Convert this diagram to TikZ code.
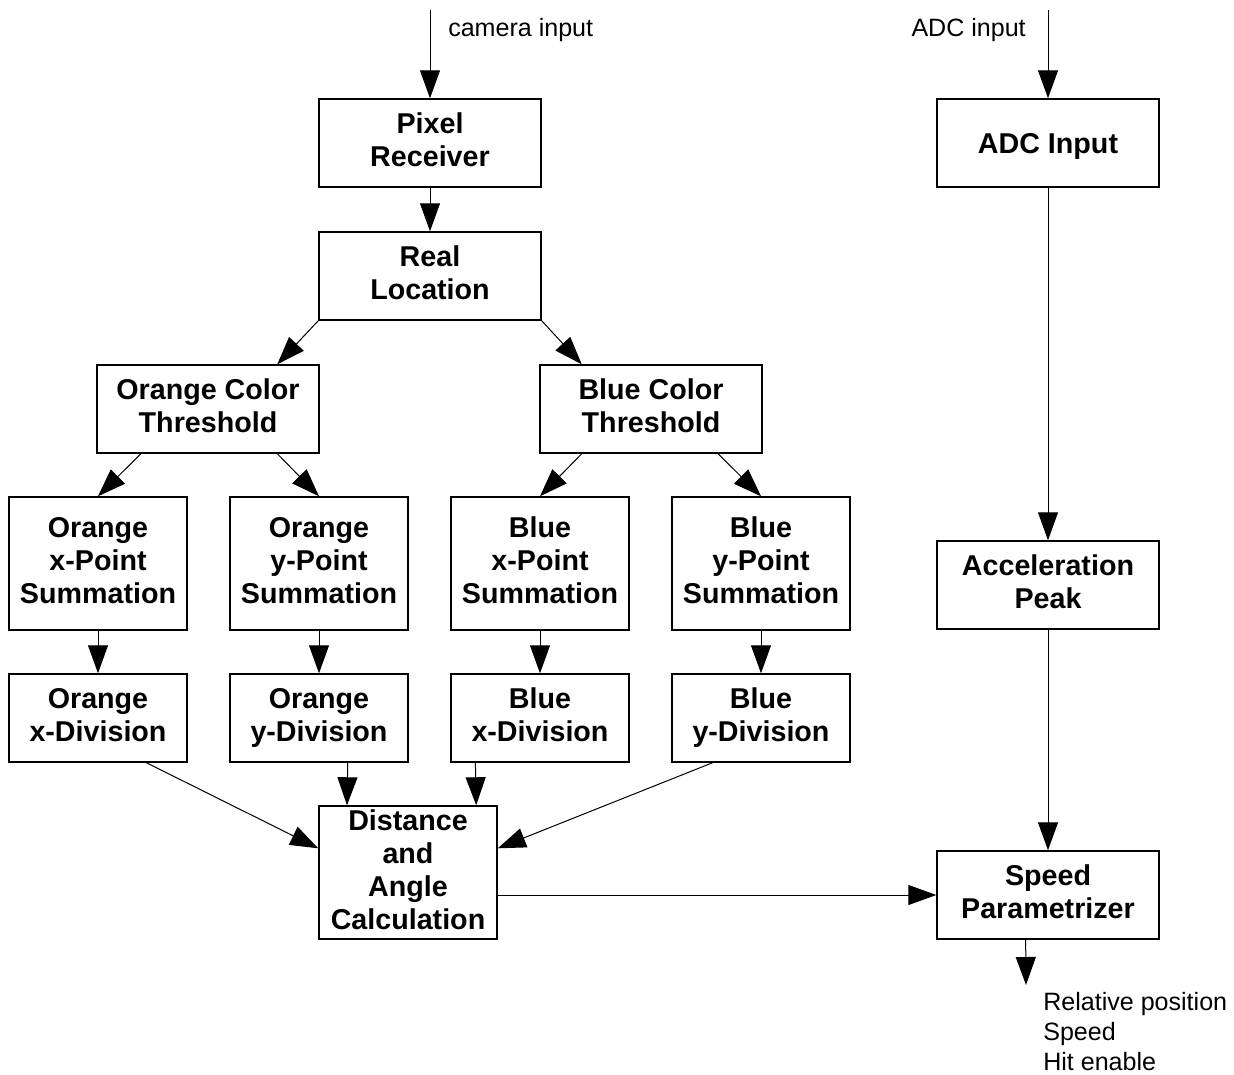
\documentclass[tikz,border=0pt]{standalone}
\usepackage{fontspec}
\setmainfont{Liberation Sans}
\usetikzlibrary{arrows.meta,calc}
\newcommand{\blkstrut}{\rule[-4.4pt]{0pt}{24.7pt}}
\tikzset{
  blk/.style={draw, line width=1.1pt, rectangle, inner sep=0pt, align=center,
    font=\bfseries\fontsize{21.5}{24.75}\selectfont,
    execute at begin node=\blkstrut, execute at end node=\blkstrut},
  wide/.style={minimum width=166.5pt, minimum height=66pt},
  narrow/.style={minimum width=133.5pt, minimum height=99.75pt},
  ndiv/.style={minimum width=133.5pt, minimum height=66pt},
  lbl/.style={font=\fontsize{18.8}{22.5}\selectfont, inner sep=0pt},
  conn/.style={line width=0.75pt, -{Triangle[length=21pt,width=15pt]}}
}
\begin{document}
\begin{tikzpicture}[x=0.75pt,y=-0.75pt]
\useasboundingbox (0,0) rectangle (1234,1074);
% nodes
\node[blk,wide] (pix) at (430,143) {Pixel\\Receiver};
\node[blk,wide] (real) at (430,276) {Real\\Location};
\node[blk,wide] (oc) at (208,409) {Orange Color\\Threshold};
\node[blk,wide] (bc) at (651,409) {Blue Color\\Threshold};
\node[blk,narrow] (ox) at (98,563.5) {Orange\\x-Point\\Summation};
\node[blk,narrow] (oy) at (319,563.5) {Orange\\y-Point\\Summation};
\node[blk,narrow] (bx) at (540,563.5) {Blue\\x-Point\\Summation};
\node[blk,narrow] (by) at (761,563.5) {Blue\\y-Point\\Summation};
\node[blk,ndiv] (oxd) at (98,718) {Orange\\x-Division};
\node[blk,ndiv] (oyd) at (319,718) {Orange\\y-Division};
\node[blk,ndiv] (bxd) at (540,718) {Blue\\x-Division};
\node[blk,ndiv] (byd) at (761,718) {Blue\\y-Division};
\node[blk,narrow] (dist) at (408,872.5) {Distance\\and\\Angle\\Calculation};
\node[blk,wide] (adc) at (1048,143) {ADC Input};
\node[blk,wide] (acc) at (1048,585) {Acceleration\\Peak};
\node[blk,wide] (spd) at (1048,895) {Speed\\Parametrizer};
% free ends
\coordinate (camin) at (430,10);
\coordinate (adcin) at (1048,10);
\coordinate (outp) at (1026,985);
% labels
\node[lbl, anchor=west] (camlbl) at (448,30) {camera input};
\node[lbl, anchor=east] (adclbl) at (1026,30) {ADC input};
\node[lbl, anchor=north west, align=left] (outlbl) at (1043,992) {Relative position\\Speed\\Hit enable};
% connectors
\draw[conn] (camin) -- (pix.north);
\draw[conn] (adcin) -- (adc.north);
\draw[conn] (pix.south) -- (real.north);
\draw[conn] (real.south west) -- ($(oc.north west)!0.81!(oc.north east)$);
\draw[conn] (real.south east) -- ($(bc.north west)!0.19!(bc.north east)$);
\draw[conn] ($(oc.south west)!0.2!(oc.south east)$) -- (ox.north);
\draw[conn] ($(oc.south west)!0.81!(oc.south east)$) -- (oy.north);
\draw[conn] ($(bc.south west)!0.19!(bc.south east)$) -- (bx.north);
\draw[conn] ($(bc.south west)!0.8!(bc.south east)$) -- (by.north);
\draw[conn] (ox.south) -- (oxd.north);
\draw[conn] (oy.south) -- (oyd.north);
\draw[conn] (bx.south) -- (bxd.north);
\draw[conn] (by.south) -- (byd.north);
\draw[conn] ($(oxd.south west)!0.77!(oxd.south east)$) -- ($(dist.north west)!0.32!(dist.south west)$);
\draw[conn] ($(oyd.south west)!0.66!(oyd.south east)$) -- ($(dist.north west)!0.16!(dist.north east)$);
\draw[conn] ($(bxd.south west)!0.14!(bxd.south east)$) -- ($(dist.north west)!0.88!(dist.north east)$);
\draw[conn] ($(byd.south west)!0.23!(byd.south east)$) -- ($(dist.north east)!0.32!(dist.south east)$);
\draw[conn] (spd.west -| dist.east) -- (spd.west);
\draw[conn] (adc.south) -- (acc.north);
\draw[conn] (acc.south) -- (spd.north);
\draw[conn] ($(spd.south west)!0.4!(spd.south east)$) -- (outp);
\end{tikzpicture}
\end{document}
